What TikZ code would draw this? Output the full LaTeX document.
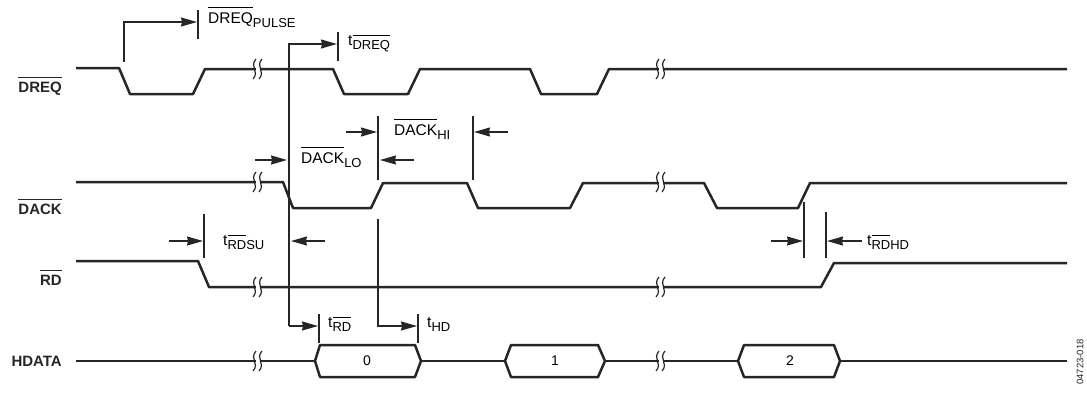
\documentclass[tikz,border=0pt]{standalone}
\usepackage{fontspec}
\setmainfont{Liberation Sans}
\usetikzlibrary{arrows.meta}
\newcommand{\ovl}[1]{$\overline{\hbox{\vrule height 0.92em depth 0pt width 0pt #1}}$}
\newcommand{\tsub}[1]{\raisebox{-4pt}{\fontsize{13}{13}\selectfont #1}}
\tikzset{
  wave/.style={line width=2.5pt,black!85,line join=round},
  tick/.style={line width=1.1pt,black!85},
  lead/.style={line width=1.2pt,black!85,-{Stealth[length=16pt,width=9pt,inset=1pt]}},
  txt/.style={inner sep=0pt,anchor=base west,font=\fontsize{15.5}{17}\selectfont},
  sig/.style={inner sep=0pt,anchor=base east,font=\fontsize{15}{17}\selectfont\bfseries,black!85},
  val/.style={inner sep=0pt,font=\fontsize{14}{16}\selectfont},
}
% wave break mark
\newcommand{\brk}[2]{
  \fill[white] (#1-1,#2-3) -- (#1+3,#2-3) -- (#1+3,#2+3) -- (#1-1,#2+3) -- cycle;
  \draw[line width=1.2pt,black!85] (#1-1,#2-10) .. controls (#1-8,#2-2) and (#1+3,#2+2) .. (#1-4,#2+10);
  \draw[line width=1.2pt,black!85] (#1+5,#2-10) .. controls (#1-2,#2-2) and (#1+9,#2+2) .. (#1+2,#2+10);
}
\begin{document}
\begin{tikzpicture}[x=1pt,y=-1pt]
\useasboundingbox (0,0) rectangle (1087,392);

\draw[wave] (76,68) -- (119,68) -- (130,94) -- (193,94) -- (205,69) -- (333,69) -- (344,94) -- (408,94) -- (420,69) -- (530,69) -- (541,94) -- (597,94) -- (609,69) -- (1067,69); % dreq
\draw[wave] (76,182) -- (283,182) -- (293,208) -- (371,208) -- (383,183) -- (467,183) -- (478,208) -- (570,208) -- (583,183) -- (704,183) -- (717,208) -- (798,208) -- (810,183) -- (1067,183); % dack
\draw[wave] (76,261) -- (198,261) -- (209,287) -- (821,287) -- (834,263) -- (1067,263); % rd
\draw[wave] (76,361) -- (315,361) (421,361) -- (505,361) (605,361) -- (738,361) (840,361) -- (1067,361); % hdata

\draw[wave] (315,361) -- (320,345) -- (415,345) -- (421,361) -- (415,377) -- (320,377) -- cycle;
\draw[wave] (505,361) -- (511,345) -- (598,345) -- (605,361) -- (598,377) -- (511,377) -- cycle;
\draw[wave] (738,361) -- (744,345) -- (834,345) -- (840,361) -- (834,377) -- (744,377) -- cycle;

\foreach \ypos in {69,182,287,361} {
  \brk{257}{\ypos}
  \brk{660}{\ypos}
}

\node[sig] (dreqname) at (62,92) {\ovl{DREQ}};
\node[sig] (dackname) at (62,214) {\ovl{DACK}};
\node[sig] (rdname) at (62,285) {\ovl{RD}};
\node[sig] (hdataname) at (62,366) {HDATA};

\node[val] (val0) at (367,361) {0};
\node[val] (val1) at (555,361) {1};
\node[val] (val2) at (790,361) {2};

% pulse width
\coordinate (pulsefrom) at (124,62);
\coordinate (pulseto) at (197,22);
\draw[lead] (pulsefrom) |- (pulseto);
\draw[tick] (198,10) -- (198,39);
\node[txt] (pulse) at (208,23) {\ovl{DREQ}\tsub{PULSE}};

% long leads from the dreq tick and to the rd tick
\coordinate (dreqlead) at (289,44);
\coordinate (dreqto) at (337,44);
\coordinate (rdto) at (318,326);
\draw[lead,line width=1.4pt] (289,326) -- (dreqlead) -- (dreqto);
\draw[lead] (289,326) -- (rdto);
\draw[tick] (338,32) -- (338,61);
\node[txt] (tdreq) at (348,45) {t\tsub{\ovl{DREQ}}};
\draw[tick] (319,314) -- (319,343);
\node[txt] (trd) at (328,327) {t\tsub{\ovl{RD}}};

% dack hi and lo
\coordinate (hia) at (346,132);
\coordinate (hib) at (377,132);
\coordinate (hic) at (508,132);
\coordinate (hid) at (474,132);
\draw[tick] (378,116) -- (378,180);
\draw[tick] (473,116) -- (473,180);
\draw[lead] (hia) -- (hib);
\draw[lead] (hic) -- (hid);
\node[txt] (dackhi) at (394,135) {\ovl{DACK}\tsub{HI}};
\coordinate (loa) at (255,160);
\coordinate (lob) at (287,160);
\coordinate (loc) at (414,160);
\coordinate (lod) at (380,160);
\draw[lead] (loa) -- (lob);
\draw[lead] (loc) -- (lod);
\node[txt] (dacklo) at (301,163) {\ovl{DACK}\tsub{LO}};

% rd setup
\coordinate (sua) at (169,241);
\coordinate (sub) at (203,241);
\coordinate (suc) at (325,241);
\coordinate (sud) at (291,241);
\draw[tick] (204,214) -- (204,258);
\draw[lead] (sua) -- (sub);
\draw[lead] (suc) -- (sud);
\node[txt] (trdsu) at (223,245) {t\tsub{\ovl{RD}SU}};

% hold
\coordinate (hdfrom) at (378,219);
\coordinate (hdto) at (417,326);
\draw[lead] (hdfrom) |- (hdto);
\draw[tick] (418,314) -- (418,343);
\node[txt] (thd) at (427,327) {t\tsub{HD}};

% rd hold
\coordinate (rha) at (771,241);
\coordinate (rhb) at (803,241);
\coordinate (rhc) at (862,241);
\coordinate (rhd) at (827,241);
\draw[tick] (804,202) -- (804,258);
\draw[tick] (826,212) -- (826,258);
\draw[lead] (rha) -- (rhb);
\draw[lead] (rhc) -- (rhd);
\node[txt] (trdhd) at (867,245) {t\tsub{\ovl{RD}HD}};

\node[rotate=90,inner sep=0pt,font=\fontsize{9.5}{10}\selectfont,black!85] (figtag) at (1080,362) {04723-018};
\end{tikzpicture}
\end{document}
